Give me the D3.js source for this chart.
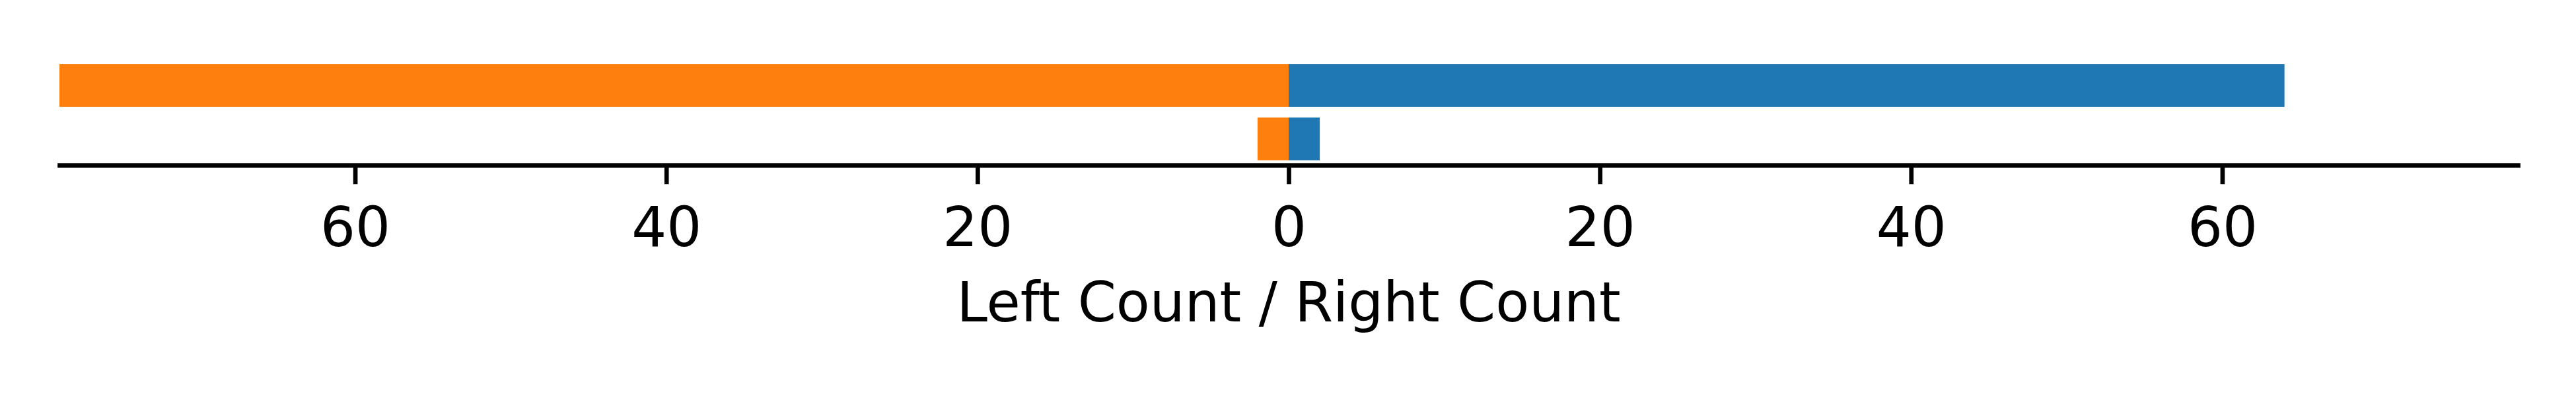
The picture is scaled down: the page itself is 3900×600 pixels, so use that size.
<!DOCTYPE html>
<html>
<head>
<meta charset="utf-8">
<script src="https://cdn.jsdelivr.net/npm/d3@7"></script>
<style>
  html, body { margin: 0; padding: 0; background: #fff; }
  svg { display: block; font-family: "DejaVu Sans", sans-serif; }
</style>
</head>
<body>
<div class="chart"></div>
<script>
// data
const categories = ['row 1', 'row 2'];
const leftCounts = [79, 2];
const rightCounts = [64, 2];
const tickValues = [-60, -40, -20, 0, 20, 40, 60];
const xLabel = 'Left Count / Right Count';

// figure dimensions (600 dpi, 6.5in x 1in)
const dims = { width: 3900, height: 600 };
const plot = { left: 90, right: 3812, top: 89.8, bottom: 250.2 };
const fontPx = 83.33;
const lw = 6.67;

const svg = d3.select('.chart')
    .append('svg')
    .attr('width', dims.width)
    .attr('height', dims.height);

const x = d3.scaleLinear()
    .domain([-79, 79])
    .range([plot.left, plot.right]);

const y = d3.scaleBand()
    .domain(categories)
    .range([plot.top, plot.bottom])
    .paddingInner(0.2)
    .paddingOuter(0.09);

// left side bars (orange), drawn towards negative x
svg.append('g')
    .selectAll('rect')
    .data(categories.map((c, i) => ({ cat: c, v: leftCounts[i] })))
    .enter()
    .append('rect')
        .attr('x', d => x(-d.v))
        .attr('y', d => y(d.cat))
        .attr('width', d => x(0) - x(-d.v))
        .attr('height', y.bandwidth())
        .attr('fill', '#ff7f0e');

// right side bars (blue)
svg.append('g')
    .selectAll('rect')
    .data(categories.map((c, i) => ({ cat: c, v: rightCounts[i] })))
    .enter()
    .append('rect')
        .attr('x', x(0))
        .attr('y', d => y(d.cat))
        .attr('width', d => x(d.v) - x(0))
        .attr('height', y.bandwidth())
        .attr('fill', '#1f77b4');

// bottom axis, labels shown as absolute values
const xAxis = d3.axisBottom(x)
    .tickValues(tickValues)
    .tickFormat(d => Math.abs(d))
    .tickSize(29)
    .tickSizeOuter(0)
    .tickPadding(35);

const axisGroup = svg.append('g')
    .attr('transform', `translate(0, ${plot.bottom})`)
    .call(xAxis);

axisGroup.select('.domain')
    .attr('stroke', '#000')
    .attr('stroke-width', lw)
    .attr('stroke-linecap', 'square');

axisGroup.selectAll('.tick line')
    .attr('stroke', '#000')
    .attr('stroke-width', lw);

axisGroup.selectAll('.tick text')
    .attr('fill', '#000')
    .attr('font-family', '"DejaVu Sans", sans-serif')
    .attr('font-size', fontPx)
    .attr('dy', '0.71em');

svg.append('text')
    .attr('x', x(0))
    .attr('y', 487)
    .attr('text-anchor', 'middle')
    .attr('font-size', fontPx)
    .attr('fill', '#000')
    .text(xLabel);
</script>
</body>
</html>
